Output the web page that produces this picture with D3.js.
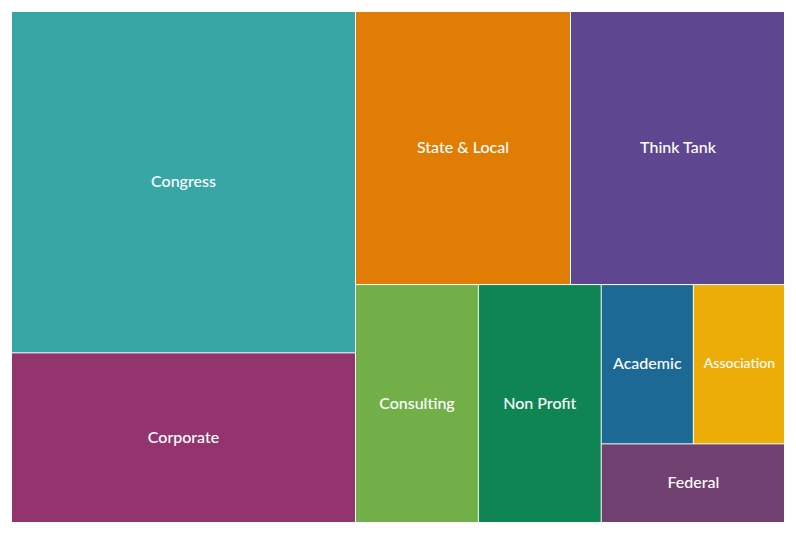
<!DOCTYPE html>
<html>
<head>
<meta charset="utf-8">
<script src="https://cdn.jsdelivr.net/npm/d3@7"></script>
<style>
  html, body { margin: 0; padding: 0; background: #fff; }
  svg { display: block; }
  text { font-family: Lato, "Source Sans Pro", "Noto Sans", sans-serif; fill: #fff; }
</style>
</head>
<body>
<svg id="chart" width="796" height="533"></svg>
<script>
const categories = ["Congress", "Corporate", "State & Local", "Think Tank", "Consulting", "Non Profit", "Academic", "Association", "Federal"];
const values = [8, 4, 4, 4, 2, 2, 1, 1, 1];
const colors = ["#38A6A5", "#94346E", "#E17C05", "#5F4690", "#73AF48", "#0F8554", "#1D6996", "#EDAD08", "#6F4070"];

const W = 796, H = 533;
const margin = {top: 12, right: 12, bottom: 11, left: 12};

const data = {name: "root", children: categories.map((c, i) => ({name: c, value: values[i], color: colors[i]}))};
const root = d3.hierarchy(data).sum(d => d.value || 0).sort((a, b) => b.value - a.value);

d3.treemap()
  .tile(d3.treemapBinary)
  .size([W - margin.left - margin.right + 1, H - margin.top - margin.bottom + 1])
  .paddingInner(1)
  .round(false)(root);

const svg = d3.select("#chart");
const g = svg.append("g").attr("transform", `translate(${margin.left},${margin.top})`);

const cell = g.selectAll("g.cell").data(root.leaves()).join("g").attr("class", "cell");

cell.append("rect")
  .attr("x", d => d.x0)
  .attr("y", d => d.y0)
  .attr("width", d => Math.max(0, d.x1 - d.x0 - (d.x1 >= W - margin.left - margin.right ? 1 : 0)))
  .attr("height", d => Math.max(0, d.y1 - d.y0 - (d.y1 >= H - margin.top - margin.bottom ? 1 : 0)))
  .attr("fill", d => d.data.color);

cell.append("text")
  .attr("x", d => (d.x0 + d.x1) / 2)
  .attr("y", d => (d.y0 + d.y1) / 2 - 2)
  .attr("text-anchor", "middle")
  .attr("dominant-baseline", "central")
  .style("font-size", d => (d.x1 - d.x0) < 100 && d.data.name.length > 9 ? "14px" : "16px")
  .style("font-weight", 500)
  .text(d => d.data.name);
</script>
</body>
</html>
